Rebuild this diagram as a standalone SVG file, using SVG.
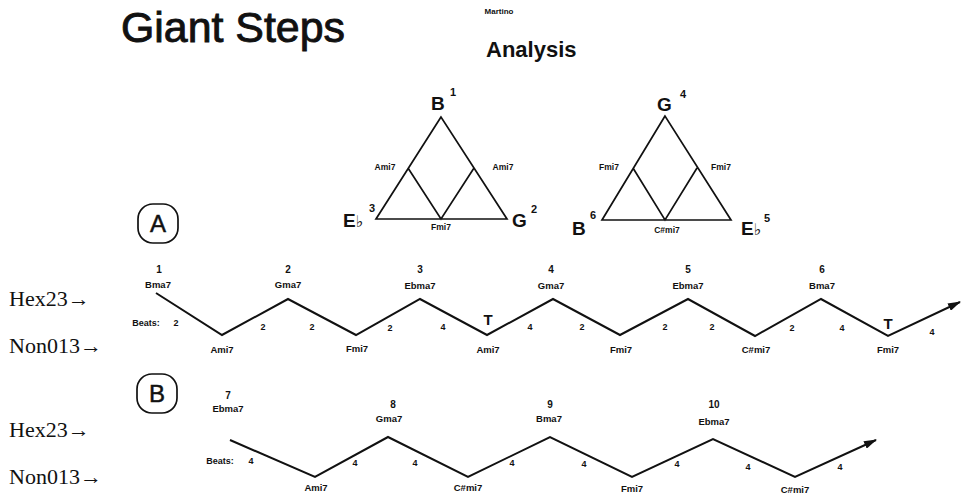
<svg xmlns="http://www.w3.org/2000/svg" width="962" height="503" viewBox="0 0 962 503">
<style>
  text { font-family: "Liberation Sans", Arial, sans-serif; fill: #111; }
  .title { font-size: 42px; stroke: #111; stroke-width: 0.9; }
  .ana { font-size: 22px; font-weight: bold; }
  .tiny { font-size: 8px; font-weight: bold; }
  .ch { font-size: 9.5px; font-weight: bold; text-anchor: middle; }
  .num { font-size: 10px; font-weight: bold; text-anchor: middle; }
  .bt { font-size: 9px; font-weight: bold; text-anchor: middle; }
  .tt { font-size: 15px; font-weight: bold; text-anchor: middle; }
  .big { font-size: 19px; font-weight: bold; }
  .sup { font-size: 11px; font-weight: bold; }
  .tri { font-size: 8.5px; font-weight: bold; text-anchor: middle; }
  .row { font-family: "Liberation Serif", "Times New Roman", serif; font-size: 22px; }
  .flat { font-family: "DejaVu Sans", sans-serif; font-size: 16px; font-weight: bold; }
  .line { fill: none; stroke: #111; stroke-width: 2; stroke-linejoin: miter; }
  .tline { fill: none; stroke: #111; stroke-width: 1.7; }
  .circ { fill: none; stroke: #111; stroke-width: 1.7; }
  .lbl { font-size: 24px; text-anchor: middle; stroke: #111; stroke-width: 0.5; }
</style>
<defs>
  <marker id="arr" viewBox="0 0 13 8" refX="12" refY="4" markerWidth="13" markerHeight="8" markerUnits="userSpaceOnUse" orient="auto">
    <path d="M0,0 L13,4 L0,8 Z" fill="#111"/>
  </marker>
</defs>

<g id="header">
  <text class="title" x="121" y="42" textLength="224" lengthAdjust="spacingAndGlyphs">Giant Steps</text>
  <text class="tiny" x="499" y="14" text-anchor="middle">Martino</text>
  <text class="ana" x="486" y="57">Analysis</text>
</g>

<g id="triangle1">
  <path class="tline" d="M441,117 L376,219 L507,219 Z M408,168 L441,219 L474,168"/>
  <text class="big" x="431" y="110">B</text>
  <text class="sup" x="450" y="96">1</text>
  <text class="tri" x="385" y="170">Ami7</text>
  <text class="tri" x="503" y="170">Ami7</text>
  <text class="tri" x="441" y="230">Fmi7</text>
  <text class="big" x="343" y="227">E<tspan class="flat">♭</tspan></text>
  <text class="sup" x="369" y="212">3</text>
  <text class="big" x="512" y="227">G</text>
  <text class="sup" x="531" y="213">2</text>
</g>

<g id="triangle2">
  <path class="tline" d="M665,116 L602,220 L731,220 Z M633,168 L665,220 L697,168"/>
  <text class="big" x="657" y="111">G</text>
  <text class="sup" x="680" y="98">4</text>
  <text class="tri" x="609" y="170">Fmi7</text>
  <text class="tri" x="721" y="170">Fmi7</text>
  <text class="tri" x="667" y="233">C#mi7</text>
  <text class="big" x="572" y="235">B</text>
  <text class="sup" x="590" y="219">6</text>
  <text class="big" x="741" y="235">E<tspan class="flat">♭</tspan></text>
  <text class="sup" x="764" y="222">5</text>
</g>

<g id="sectionA">
  <rect class="circ" x="138" y="204" width="40" height="39" rx="15" ry="15"/>
  <text class="lbl" x="158" y="232">A</text>
</g>
<g id="sectionB">
  <rect class="circ" x="137" y="374" width="40" height="39" rx="15" ry="15"/>
  <text class="lbl" x="157" y="402">B</text>
</g>

<g id="rowlabels">
  <text class="row" x="9" y="306">Hex23→</text>
  <text class="row" x="9" y="353">Non013→</text>
  <text class="row" x="9" y="437">Hex23→</text>
  <text class="row" x="9" y="484">Non013→</text>
</g>

<g id="connectors">
  <polyline class="line" marker-end="url(#arr)" points="156,293 222,335 288,299 356,335 420,299 487,335 553,299 620,335 688,299 755,336 821,299 888,336 960,302"/>
  <polyline class="line" marker-end="url(#arr)" points="230,440 315,477 388,437 468,477 550,437 632,477 713,439 795,477 876,440"/>
</g>

<g id="rowA-chords">
  <g id="a1"><text class="num" x="159" y="273">1</text><text class="ch" x="158" y="288">Bma7</text></g>
  <g id="a2"><text class="num" x="288" y="273">2</text><text class="ch" x="288" y="288">Gma7</text></g>
  <g id="a3"><text class="num" x="420" y="273">3</text><text class="ch" x="420" y="289">Ebma7</text></g>
  <g id="a4"><text class="num" x="551" y="273">4</text><text class="ch" x="551" y="289">Gma7</text></g>
  <g id="a5"><text class="num" x="688" y="273">5</text><text class="ch" x="688" y="289">Ebma7</text></g>
  <g id="a6"><text class="num" x="822" y="273">6</text><text class="ch" x="822" y="289">Bma7</text></g>
  <g id="a-m1"><text class="ch" x="222" y="353">Ami7</text></g>
  <g id="a-m2"><text class="ch" x="357" y="352">Fmi7</text></g>
  <g id="a-m3"><text class="ch" x="488" y="353">Ami7</text></g>
  <g id="a-m4"><text class="ch" x="621" y="353">Fmi7</text></g>
  <g id="a-m5"><text class="ch" x="756" y="353">C#mi7</text></g>
  <g id="a-m6"><text class="ch" x="888" y="353">Fmi7</text></g>
</g>

<g id="rowA-beats">
  <text class="bt" x="146" y="326">Beats:</text>
  <text class="bt" x="176" y="326">2</text>
  <text class="bt" x="263" y="330">2</text>
  <text class="bt" x="312" y="330">2</text>
  <text class="bt" x="390" y="331">2</text>
  <text class="bt" x="443" y="330">4</text>
  <text class="tt" x="488" y="325">T</text>
  <text class="bt" x="530" y="330">4</text>
  <text class="bt" x="582" y="330">2</text>
  <text class="bt" x="665" y="330">2</text>
  <text class="bt" x="712" y="330">2</text>
  <text class="bt" x="792" y="331">2</text>
  <text class="bt" x="842" y="331">4</text>
  <text class="tt" x="888" y="329">T</text>
  <text class="bt" x="932" y="335">4</text>
</g>

<g id="rowB-chords">
  <g id="b7"><text class="num" x="228" y="399">7</text><text class="ch" x="228" y="412">Ebma7</text></g>
  <g id="b8"><text class="num" x="393" y="408">8</text><text class="ch" x="389" y="422">Gma7</text></g>
  <g id="b9"><text class="num" x="550" y="408">9</text><text class="ch" x="549" y="422">Bma7</text></g>
  <g id="b10"><text class="num" x="714" y="408">10</text><text class="ch" x="714" y="425">Ebma7</text></g>
  <g id="b-m1"><text class="ch" x="316" y="491">Ami7</text></g>
  <g id="b-m2"><text class="ch" x="468" y="491">C#mi7</text></g>
  <g id="b-m3"><text class="ch" x="632" y="492">Fmi7</text></g>
  <g id="b-m4"><text class="ch" x="795" y="493">C#mi7</text></g>
</g>

<g id="rowB-beats">
  <text class="bt" x="220" y="464">Beats:</text>
  <text class="bt" x="251" y="464">4</text>
  <text class="bt" x="355" y="466">4</text>
  <text class="bt" x="415" y="466">4</text>
  <text class="bt" x="512" y="466">4</text>
  <text class="bt" x="584" y="467">4</text>
  <text class="bt" x="677" y="467">4</text>
  <text class="bt" x="748" y="470">4</text>
  <text class="bt" x="840" y="470">4</text>
</g>
</svg>
